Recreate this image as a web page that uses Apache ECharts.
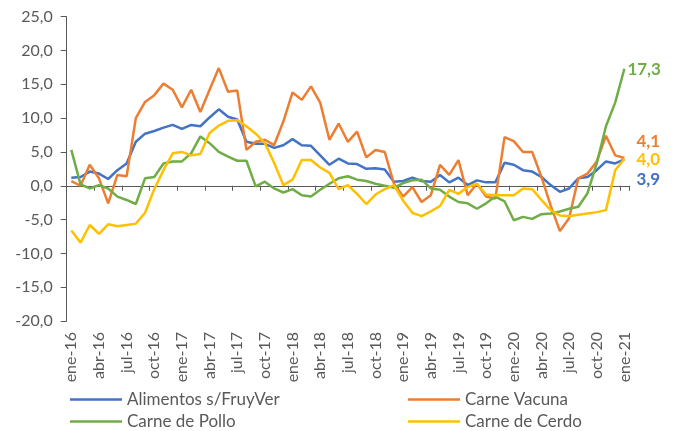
<!DOCTYPE html>
<html>
<head>
<meta charset="utf-8">
<script src="https://cdn.jsdelivr.net/npm/echarts@6/dist/echarts.min.js"></script>
<style>
html,body{margin:0;padding:0;background:#fff;}
#chart{width:673px;height:431px;}
</style>
</head>
<body>
<div id="chart"></div>
<script>
const monthNames = ['ene','feb','mar','abr','may','jun','jul','ago','sep','oct','nov','dic'];
const years = ['16','17','18','19','20','21'];
const categories = [];
years.forEach(y => monthNames.forEach(m => categories.push(m + '-' + y)));
categories.length = 61;

const alimentos = [1.2,1.3,2.1,1.8,1.0,2.3,3.3,6.5,7.7,8.1,8.6,9.0,8.4,9.0,8.8,10.1,11.3,10.2,9.8,6.5,6.2,6.2,5.6,6.0,6.9,6.0,5.9,4.5,3.1,4.0,3.3,3.2,2.5,2.6,2.4,0.6,0.7,1.2,0.7,0.6,1.6,0.5,1.2,0.1,0.8,0.5,0.5,3.4,3.1,2.3,2.1,1.3,0.1,-0.9,-0.4,1.1,1.3,2.3,3.6,3.3,3.9];
const vacuna = [0.7,0.0,3.1,1.1,-2.6,1.6,1.4,10.0,12.4,13.4,15.1,14.2,11.6,14.2,10.9,14.2,17.4,13.9,14.1,5.3,6.5,6.8,6.0,9.5,13.8,12.7,14.7,12.3,6.8,9.2,6.5,8.0,4.2,5.3,5.0,0.3,-1.6,-0.2,-2.4,-1.4,3.1,1.6,3.8,-1.4,0.3,-1.6,-1.9,7.2,6.6,5.0,5.0,1.3,-2.9,-6.7,-4.8,1.1,1.8,3.6,7.4,4.5,4.1];
const pollo = [5.3,0.2,-0.4,0.1,-0.4,-1.6,-2.1,-2.7,1.1,1.3,3.3,3.6,3.6,4.8,7.3,6.3,5.0,4.3,3.7,3.7,-0.1,0.6,-0.4,-1.0,-0.5,-1.4,-1.6,-0.6,0.3,1.1,1.4,0.9,0.7,0.3,0.0,-0.3,0.4,0.8,0.9,-0.4,-0.6,-1.6,-2.4,-2.6,-3.4,-2.6,-1.6,-2.3,-5.1,-4.6,-4.9,-4.2,-4.1,-3.8,-3.4,-3.1,-1.1,3.3,8.8,12.3,17.3];
const cerdo = [-6.6,-8.4,-5.8,-7.1,-5.7,-6.0,-5.8,-5.6,-4.0,-0.5,2.3,4.8,5.0,4.5,4.7,7.8,8.9,9.6,9.7,8.8,7.7,6.3,3.4,0.1,0.9,3.8,3.8,2.7,1.9,-0.5,0.1,-1.2,-2.7,-1.3,-0.5,0.1,-2.2,-4.0,-4.5,-3.8,-3.0,-0.6,-1.2,-0.2,0.3,-1.3,-1.4,-1.4,-1.4,-0.4,-0.5,-2.1,-3.6,-4.4,-4.5,-4.3,-4.1,-3.9,-3.6,2.3,4.0];

const seriesNames = ['Alimentos s/FruyVer','Carne Vacuna','Carne de Pollo','Carne de Cerdo'];
const colors = ['#4472C4','#ED7D31','#70AD47','#FFC000'];

const FONT = 'Lato';
const GRAY = '#595959';
const fmt = v => v.toFixed(1).replace('.', ',');

// [distance, dy] for the end-of-line value labels
const endCfg = [[12, 20], [12, -17], [3, 1], [12, 1]];
const allData = [alimentos, vacuna, pollo, cerdo];

const chart = echarts.init(document.getElementById('chart'), null, {renderer: 'canvas'});
chart.setOption({
  animation: false,
  backgroundColor: '#fff',
  textStyle: {fontFamily: FONT},
  grid: {left: 66.7, right: 44, top: 16.7, bottom: 110},
  legend: [
    {data: [seriesNames[0]], left: 70, top: 391},
    {data: [seriesNames[1]], left: 408, top: 391},
    {data: [seriesNames[2]], left: 70, top: 413},
    {data: [seriesNames[3]], left: 408, top: 413}
  ].map(l => Object.assign(l, {
    icon: 'rect', itemWidth: 52, itemHeight: 2.5, padding: 0,
    textStyle: {fontFamily: FONT, fontSize: 17, color: GRAY}
  })),
  xAxis: {
    type: 'category', data: categories, boundaryGap: true,
    axisLine: {onZero: true, lineStyle: {color: GRAY, width: 1}},
    axisTick: {show: true, interval: 2, length: 5, lineStyle: {color: GRAY}},
    axisLabel: {show: true, interval: 2, rotate: 90, margin: 11, fontSize: 16, color: GRAY, fontFamily: FONT},
    splitLine: {show: false}
  },
  yAxis: {
    type: 'value', min: -20, max: 25, interval: 5,
    axisLine: {show: true, lineStyle: {color: GRAY, width: 1}},
    axisTick: {show: true, length: 6, lineStyle: {color: GRAY}},
    axisLabel: {formatter: v => fmt(v), fontSize: 16, color: GRAY, margin: 14, fontFamily: FONT},
    splitLine: {show: false}
  },
  series: allData.map((d, k) => ({
    name: seriesNames[k], type: 'line',
    data: d,
    showSymbol: false, symbol: 'none',
    lineStyle: {color: colors[k], width: 2.5},
    itemStyle: {color: colors[k]},
    endLabel: {
      show: true, distance: endCfg[k][0], offset: [0, endCfg[k][1]],
      formatter: p => fmt(p.value), color: colors[k],
      fontFamily: FONT, fontWeight: 'bold', fontSize: 17
    },
    z: [2, 3, 4, 5][k]
  }))
});
</script>
</body>
</html>
